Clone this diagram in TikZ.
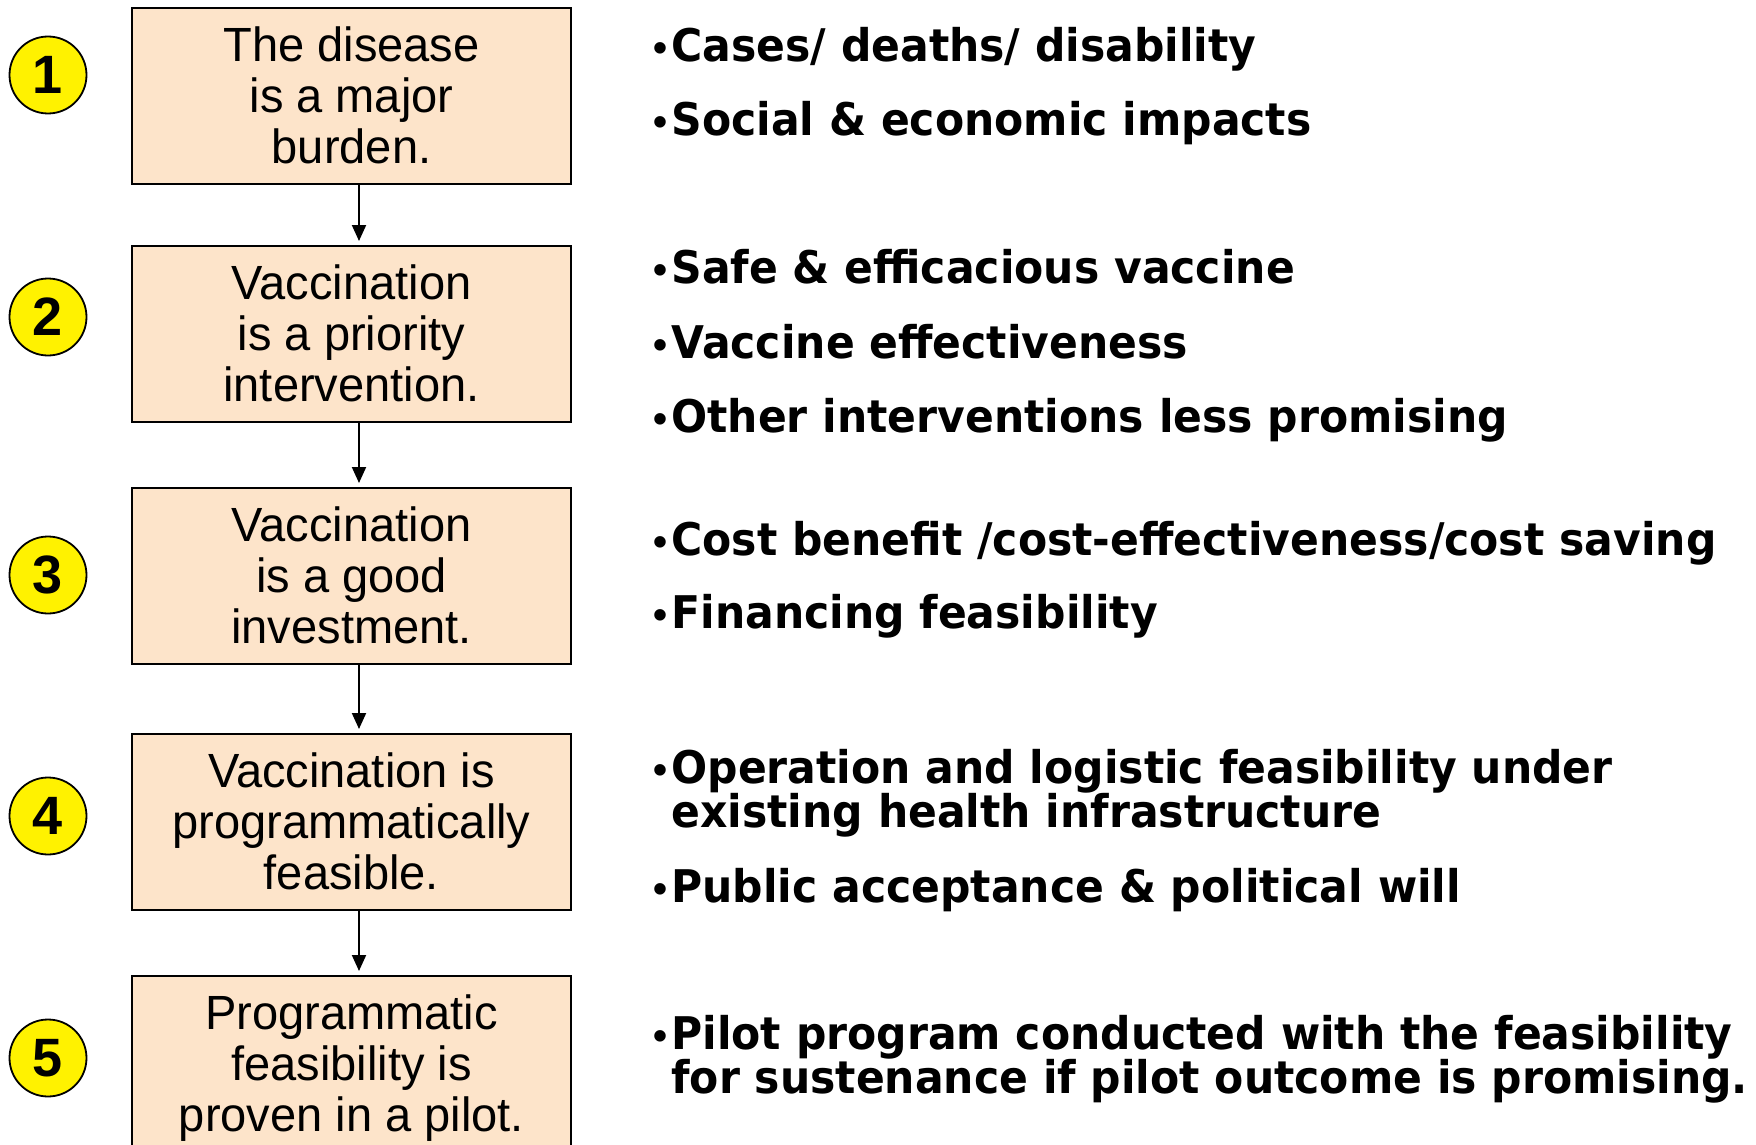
\documentclass[tikz,border=0pt]{standalone}
\usepackage{fontspec}
\usetikzlibrary{arrows.meta}
\newfontfamily\boxfont[FakeStretch=0.98]{Liberation Sans}
\newfontfamily\rfont[FakeStretch=0.945]{DejaVu Sans}
\newfontfamily\numfont{Liberation Sans}
\newcommand\bul{{\numfont\bfseries\fontsize{20}{22}\selectfont •\kern2pt}}
\definecolor{peach}{RGB}{253,228,202}
\tikzset{
  stepbox/.style={draw=black, line width=1pt, fill=peach, minimum width=219.5pt,
    inner sep=0pt, anchor=north, align=center, text height=77.5pt, text depth=10.5pt,
    font={\boxfont\fontsize{24}{25.5}\selectfont}},
  numdot/.style={circle, draw=black, line width=0.9pt, fill=yellow, minimum size=38.5pt,
    inner sep=0pt, font={\numfont\bfseries\fontsize{27}{27}\selectfont}},
  item/.style={anchor=base west, inner sep=0pt, align=left,
    font={\rfont\bfseries\fontsize{22.5}{22}\selectfont}},
  arr/.style={line width=1pt, -{Triangle[width=7pt,length=8pt]}, shorten >=2pt}
}
\begin{document}
\begin{tikzpicture}[x=0.5pt,y=-0.5pt]
\useasboundingbox (0,0) rectangle (1756,1145);
% boxes
\node[stepbox] (b1) at (351.5,7) {The disease\\is a major\\burden.};
\node[stepbox] (b2) at (351.5,245) {Vaccination\\is a priority\\intervention.};
\node[stepbox] (b3) at (351.5,487) {Vaccination\\is a good\\investment.};
\node[stepbox] (b4) at (351.5,733) {Vaccination is\\programmatically\\feasible.};
\node[stepbox] (b5) at (351.5,975) {Programmatic\\feasibility is\\proven in a pilot.};
% arrows
\draw[arr] ([xshift=3.75pt]b1.south) -- ([xshift=3.75pt]b2.north);
\draw[arr] ([xshift=3.75pt]b2.south) -- ([xshift=3.75pt]b3.north);
\draw[arr] ([xshift=3.75pt]b3.south) -- ([xshift=3.75pt]b4.north);
\draw[arr] ([xshift=3.75pt]b4.south) -- ([xshift=3.75pt]b5.north);
% numbers
\node[numdot] (n1) at (48,75) {1};
\node[numdot] (n2) at (48,317) {2};
\node[numdot] (n3) at (48,575) {3};
\node[numdot] (n4) at (48,816) {4};
\node[numdot] (n5) at (48,1058) {5};
% items
\node[item] (t1a) at (653,62) {\bul Cases/ deaths/ disability};
\node[item] (t1b) at (653,135) {\bul Social \& economic impacts};
\node[item] (t2a) at (653,283) {\bul Safe \& efficacious vaccine};
\node[item] (t2b) at (653,358) {\bul Vaccine effectiveness};
\node[item] (t2c) at (653,432) {\bul Other interventions less promising};
\node[item] (t3a) at (653,555) {\bul Cost benefit /cost-effectiveness/cost saving};
\node[item] (t3b) at (653,628) {\bul Financing feasibility};
\node[item] (t4a) at (653,827) {\bul Operation and logistic feasibility under\\\phantom{\bul}existing health infrastructure};
\node[item] (t4b) at (653,902) {\bul Public acceptance \& political will};
\node[item] (t5a) at (653,1093) {\bul Pilot program conducted with the feasibility\\\phantom{\bul}for sustenance if pilot outcome is promising.};
\end{tikzpicture}
\end{document}
